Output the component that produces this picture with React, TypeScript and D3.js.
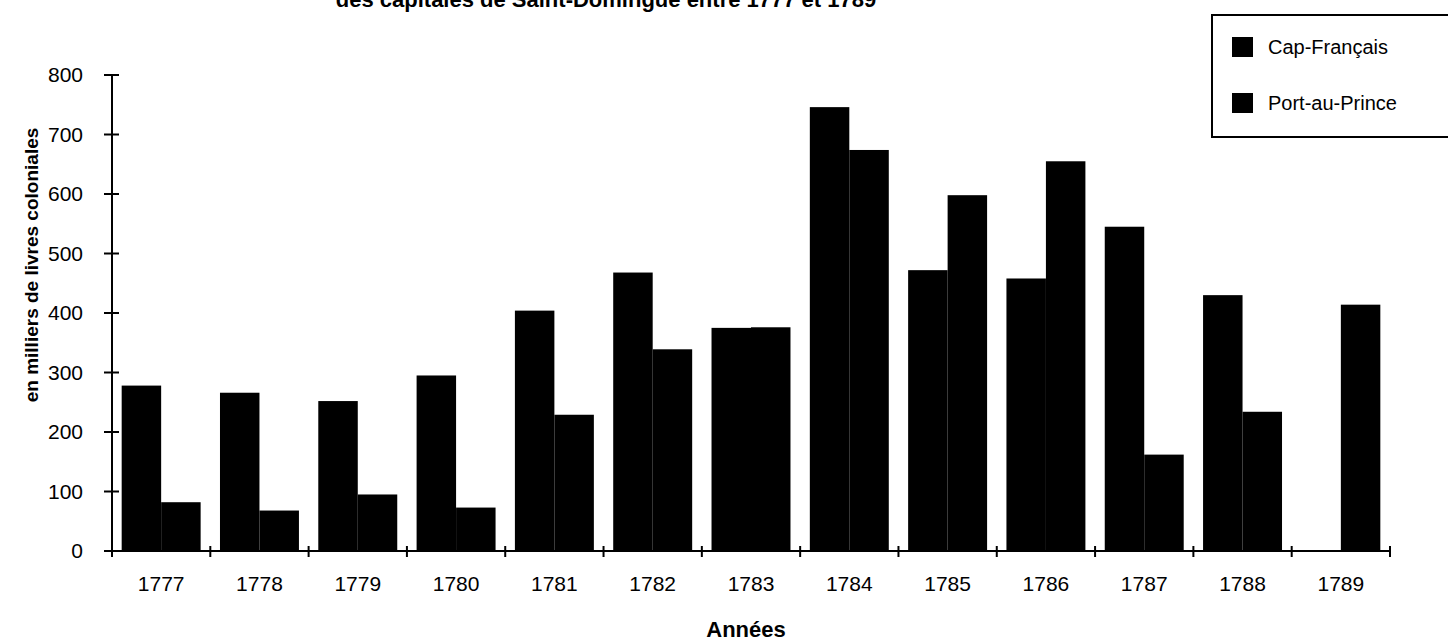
import React from "react";
import * as d3 from "d3";

const years = ["1777","1778","1779","1780","1781","1782","1783","1784","1785","1786","1787","1788","1789"];
const capFrancais = [278, 266, 252, 295, 404, 468, 375, 746, 472, 458, 545, 430, 0];
const portAuPrince = [82, 68, 95, 73, 229, 339, 376, 674, 598, 655, 162, 234, 414];
const seriesNames = ["Cap-Français", "Port-au-Prince"];
const yTicks = [0, 100, 200, 300, 400, 500, 600, 700, 800];

const W = 1448, H = 644;
const font = "'Liberation Sans', Arial, sans-serif";

export default function App() {
  const x = d3.scaleBand().domain(years).range([112, 1390]).paddingInner(0).paddingOuter(0);
  const inner = d3.scaleBand().domain(seriesNames).range([0, x.bandwidth()]).paddingInner(0).paddingOuter(0.245);
  const y = d3.scaleLinear().domain([0, 800]).range([551, 75]);
  const series = [capFrancais, portAuPrince];
  const boundaries = years.map((yr) => x(yr) as number).concat([x.range()[1]]);

  return (
    <svg width={W} height={H} style={{ position: "absolute", left: 0, top: 0, background: "#fff" }}>
      <rect x={0} y={0} width={W} height={H} fill="#fff" />
      {/* title (clipped at top, as in the reference) */}
      <text x={606} y={7} textAnchor="middle" fontFamily={font} fontWeight="bold" fontSize={22} fill="#000">
        des capitales de Saint-Domingue entre 1777 et 1789
      </text>

      {/* bars */}
      {series.map((vals, si) =>
        vals.map((v, i) =>
          v > 0 ? (
            <rect
              key={`${si}-${i}`}
              x={(x(years[i]) as number) + (inner(seriesNames[si]) as number)}
              y={y(v)}
              width={inner.bandwidth()}
              height={y(0) - y(v)}
              fill="#000"
            />
          ) : null
        )
      )}

      {/* y axis */}
      <line x1={112} x2={112} y1={y(800)} y2={y(0)} stroke="#000" strokeWidth={2} />
      {yTicks.map((t) => (
        <g key={t}>
          <line x1={104} x2={119} y1={y(t)} y2={y(t)} stroke="#000" strokeWidth={2} />
          <text x={83} y={y(t)} dy="0.35em" textAnchor="end" fontFamily={font} fontSize={21} fill="#000">
            {t}
          </text>
        </g>
      ))}

      {/* x axis */}
      <line x1={112} x2={1390} y1={y(0)} y2={y(0)} stroke="#000" strokeWidth={2} />
      {boundaries.map((b, i) => (
        <line key={i} x1={b} x2={b} y1={y(0) - 5} y2={y(0) + 6} stroke="#000" strokeWidth={2} />
      ))}
      {years.map((yr) => (
        <text key={yr} x={(x(yr) as number) + x.bandwidth() / 2} y={591} textAnchor="middle" fontFamily={font} fontSize={21} fill="#000">
          {yr}
        </text>
      ))}

      {/* axis titles */}
      <text x={746} y={637} textAnchor="middle" fontFamily={font} fontWeight="bold" fontSize={22} fill="#000">
        Années
      </text>
      <text transform="translate(38,265) rotate(-90)" textAnchor="middle" fontFamily={font} fontWeight="bold" fontSize={19} fill="#000">
        en milliers de livres coloniales
      </text>

      {/* legend */}
      <rect x={1212} y={15} width={240} height={122} fill="#fff" stroke="#000" strokeWidth={2} />
      {seriesNames.map((s, i) => (
        <g key={s}>
          <rect x={1232} y={37 + i * 56} width={21} height={20} fill="#000" />
          <text x={1268} y={47 + i * 56} dy="0.35em" fontFamily={font} fontSize={20} fill="#000">
            {s}
          </text>
        </g>
      ))}
    </svg>
  );
}
